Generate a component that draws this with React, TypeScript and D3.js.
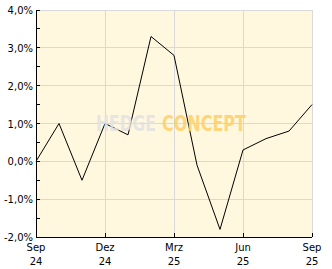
import React from "react";
import * as d3 from "d3";

const months = ["2024-09","2024-10","2024-11","2024-12","2025-01","2025-02","2025-03","2025-04","2025-05","2025-06","2025-07","2025-08","2025-09"];
const values = [0.0, 1.0, -0.5, 1.0, 0.7, 3.3, 2.8, -0.1, -1.8, 0.3, 0.6, 0.8, 1.5];
const xTickIdx = [0, 3, 6, 9, 12];
const xTickLabels = [["Sep","24"],["Dez","24"],["Mrz","25"],["Jun","25"],["Sep","25"]];
const yTicks = [-2, -1, 0, 1, 2, 3, 4];
const yMinor = [-1.5, -0.5, 0.5, 1.5, 2.5, 3.5];

export default function App() {
  const W = 332, H = 269;
  const L = 36, R = 312, T = 10, B = 237;
  const x = d3.scaleLinear().domain([0, months.length - 1]).range([L, R]);
  const y = d3.scaleLinear().domain([-2, 4]).range([B, T]);
  const line = d3.line<number>().x((_, i) => x(i)).y(d => y(d));
  const font = "DejaVu Sans, Verdana, sans-serif";
  const wmFont = "DejaVu Sans Condensed, DejaVu Sans, sans-serif";
  const fmt = (v: number) => v.toFixed(1).replace(".", ",") + "%";
  return (
    <svg width={W} height={H} style={{ position: "absolute", left: 0, top: 0 }}>
      <rect x={L} y={T} width={R - L} height={B - T} fill="#FFF7DE" />
      {yTicks.map(t => (
        <line key={"gy" + t} x1={L} x2={R} y1={y(t)} y2={y(t)} stroke="#D9D9D9" strokeWidth={1} shapeRendering="crispEdges" />
      ))}
      {xTickIdx.map(i => (
        <line key={"gx" + i} x1={x(i)} x2={x(i)} y1={T} y2={B} stroke="#D9D9D9" strokeWidth={1} shapeRendering="crispEdges" />
      ))}
      <path d={line(values) || ""} fill="none" stroke="#000" strokeWidth={1} />
      <text x={96} y={131} fontFamily={wmFont} fontWeight="bold" fontSize={21} textLength={60} lengthAdjust="spacingAndGlyphs" fill="#E2E2E2" fillOpacity={0.85}>HEDGE</text>
      <text x={162} y={131} fontFamily={wmFont} fontWeight="bold" fontSize={21} textLength={84} lengthAdjust="spacingAndGlyphs" fill="#FFCF66" fillOpacity={0.85}>CONCEPT</text>
      <line x1={L} x2={L} y1={T} y2={B} stroke="#000" shapeRendering="crispEdges" />
      <line x1={L} x2={R} y1={B} y2={B} stroke="#000" shapeRendering="crispEdges" />
      {yTicks.concat(yMinor).map(t => (
        <line key={"ty" + t} x1={L} x2={L + 4} y1={y(t)} y2={y(t)} stroke="#000" shapeRendering="crispEdges" />
      ))}
      {xTickIdx.map(i => (
        <line key={"tx" + i} x1={x(i)} x2={x(i)} y1={B} y2={B - 4} stroke="#000" shapeRendering="crispEdges" />
      ))}
      {yTicks.map(t => (
        <text key={"ly" + t} x={L - 3} y={y(t) + 4} textAnchor="end" fontFamily={font} fontSize={10} fill="#000">{fmt(t)}</text>
      ))}
      {xTickIdx.map((i, k) => (
        <text key={"lx" + i} x={x(i)} textAnchor="middle" fontFamily={font} fontSize={10} fill="#000">
          <tspan x={x(i)} y={251}>{xTickLabels[k][0]}</tspan>
          <tspan x={x(i)} y={265}>{xTickLabels[k][1]}</tspan>
        </text>
      ))}
    </svg>
  );
}
